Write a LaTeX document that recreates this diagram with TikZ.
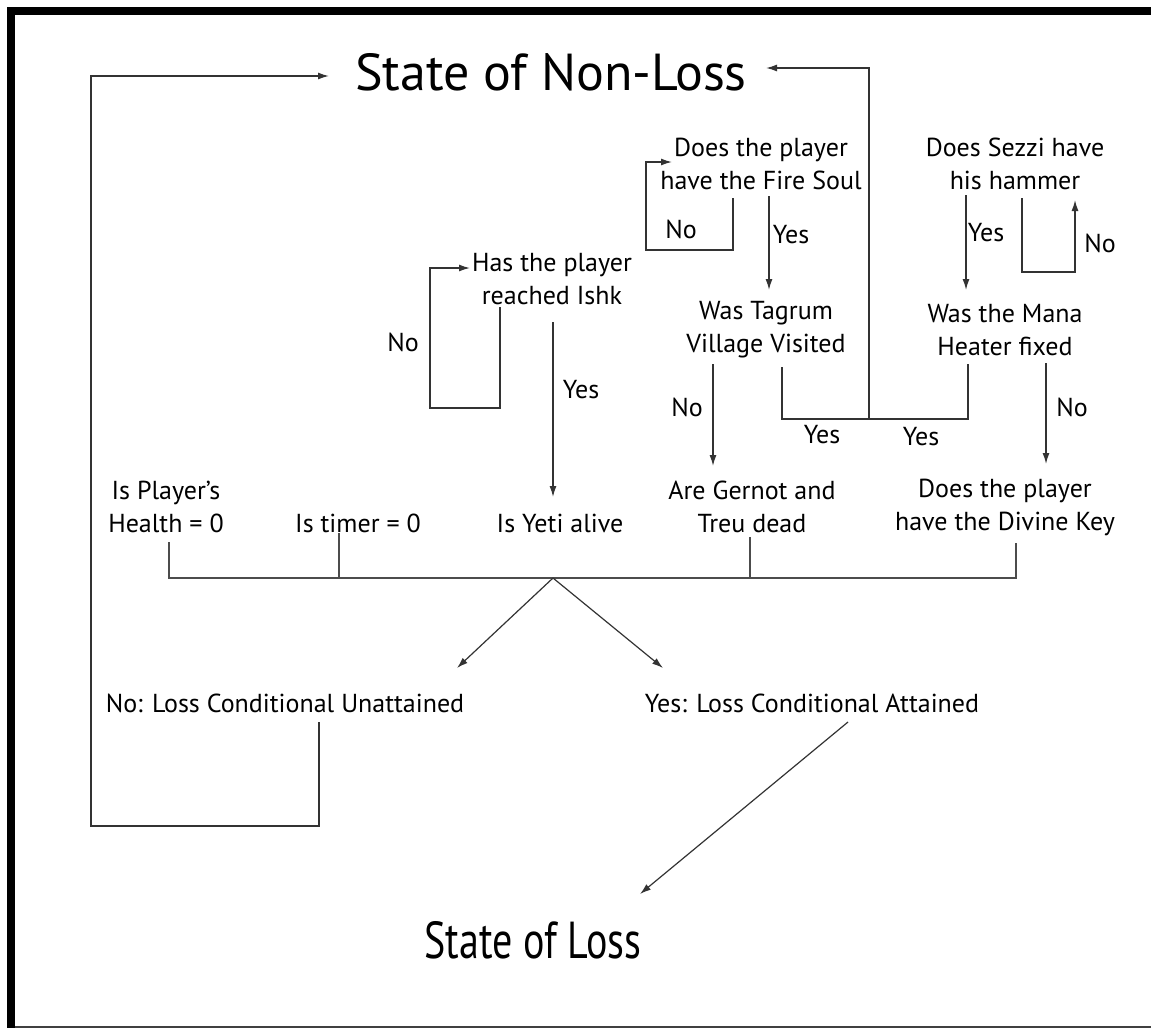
\documentclass[tikz,border=0pt]{standalone}
\usepackage{fontspec}
\setmainfont{PT Sans}
\usetikzlibrary{arrows.meta,calc}

\begin{document}
\begin{tikzpicture}[x=1pt,y=-1pt,
  txt/.style={inner sep=0pt, align=center, font=\fontsize{26}{33}\selectfont},
  lbl/.style={inner sep=0pt, font=\fontsize{26}{33}\selectfont},
  big/.style={inner sep=0pt, font=\fontsize{52}{60}\selectfont},
  conn/.style={draw=black!80, line width=1.4pt},
  arr/.style={conn, -{Latex[length=11pt,width=7pt]}},
  bus/.style={draw=black!70, line width=2pt}]

% page area
\useasboundingbox (0,0) rectangle (1151,1028);
\fill[white] (0,0) rectangle (1151,1028);

% frame: heavy rules on the left and top, thin rule at the bottom
\draw[line width=8pt] (11,7) -- (11,1028);
\draw[line width=8pt] (7,11) -- (1151,11);
\draw[black!75, line width=1.5pt] (15,1027) -- (1151,1027);

% outcome states
\node[big] (nonloss) at (551,72) {State of Non-Loss};
\node[big, xscale=0.77] (loss) at (533,940) {State of Loss};

% questions
\node[txt] (fire)   at (761,164) {Does the player\\have the Fire Soul};
\node[txt] (sezzi)  at (1015,164) {Does Sezzi have\\his hammer};
\node[txt] (ishk)   at (552,279) {Has the player\\reached Ishk};
\node[txt] (tagrum) at (766,330) {Was Tagrum\\Village Visited};
\node[txt] (mana)   at (1005,330) {Was the Mana\\Heater fixed};
\node[txt] (health) at (166,507) {Is Player’s\\Health = 0};
\node[txt] (timer)  at (358,523) {Is timer = 0};
\node[txt] (yeti)   at (560,523) {Is Yeti alive};
\node[txt] (gernot) at (752,507) {Are Gernot and\\Treu dead};
\node[txt] (divine) at (1005,507) {Does the player\\have the Divine Key};

% results
\node[txt] (unatt) at (285,703) {No: Loss Conditional Unattained};
\node[txt] (att)   at (812,703) {Yes: Loss Conditional Attained};

% connector end points
\coordinate (nlL)  at (329,76);
\coordinate (nlR)  at (766,68);
\coordinate (uOut) at (319,722);
\coordinate (fNo)  at (733,198);
\coordinate (fIn)  at (672,162);
\coordinate (fYes) at (769,196);
\coordinate (tIn)  at (769,290);
\coordinate (sYes) at (966,195);
\coordinate (mIn)  at (966,290);
\coordinate (sNo)  at (1022,198);
\coordinate (sIn)  at (1075,200);
\coordinate (iNo)  at (500,307);
\coordinate (iIn)  at (470,268);
\coordinate (iYes) at (553,322);
\coordinate (yIn)  at (553,497);
\coordinate (tNo)  at (713,364);
\coordinate (gIn)  at (713,466);
\coordinate (tYes) at (782,367);
\coordinate (mYes) at (968,364);
\coordinate (join) at (869,419);
\coordinate (mNo)  at (1046,363);
\coordinate (dIn)  at (1046,464);
\coordinate (hOut) at (169,542);
\coordinate (tmOut) at (339,533);
\coordinate (gOut) at (750,537);
\coordinate (dOut) at (1016,543);
\coordinate (apex) at (553,578);
\coordinate (uIn)  at (457,668);
\coordinate (aIn)  at (663,668);
\coordinate (aOut) at (848,722);
\coordinate (lIn)  at (640,894);

% loss conditional not met: back to the safe state
\draw[arr] (uOut) -- (319,826) -- (91,826) -- (91,76) -- (nlL);

% Fire Soul question
\draw[arr] (fNo) -- (733,250) -- (646,250) -- (646,162) -- (fIn);
\draw[arr] (fYes) -- (tIn);
\node[lbl] at (681,229) {No};
\node[lbl] at (791,235) {Yes};

% Sezzi question
\draw[arr] (sYes) -- (mIn);
\draw[arr] (sNo) -- (1022,272) -- (1075,272) -- (sIn);
\node[lbl] at (986,233) {Yes};
\node[lbl] at (1100,243) {No};

% Ishk question
\draw[arr] (iNo) -- (500,408) -- (430,408) -- (430,268) -- (iIn);
\draw[arr] (iYes) -- (yIn);
\node[lbl] at (403,342) {No};
\node[lbl] at (581,390) {Yes};

% Tagrum and Mana Heater
\draw[arr] (tNo) -- (gIn);
\node[lbl] at (687,407) {No};
\draw[arr] (mNo) -- (dIn);
\node[lbl] at (1072,407) {No};
\draw[conn] (tYes) -- (782,419) -- (968,419) -- (mYes);
\draw[arr] (join) -- (869,68) -- (nlR);
\node[lbl] at (822,435) {Yes};
\node[lbl] at (921,437) {Yes};

% loss conditions bus
\draw[bus] (hOut) -- (169,578) -- (1016,578) -- (dOut);
\draw[bus] (tmOut) -- (339,578);
\draw[bus] (gOut) -- (750,578);
\draw[arr, line width=1.2pt] (apex) -- (uIn);
\draw[arr, line width=1.2pt] (apex) -- (aIn);

% loss conditional met
\draw[arr, line width=1.2pt] (aOut) -- (lIn);
\end{tikzpicture}
\end{document}
